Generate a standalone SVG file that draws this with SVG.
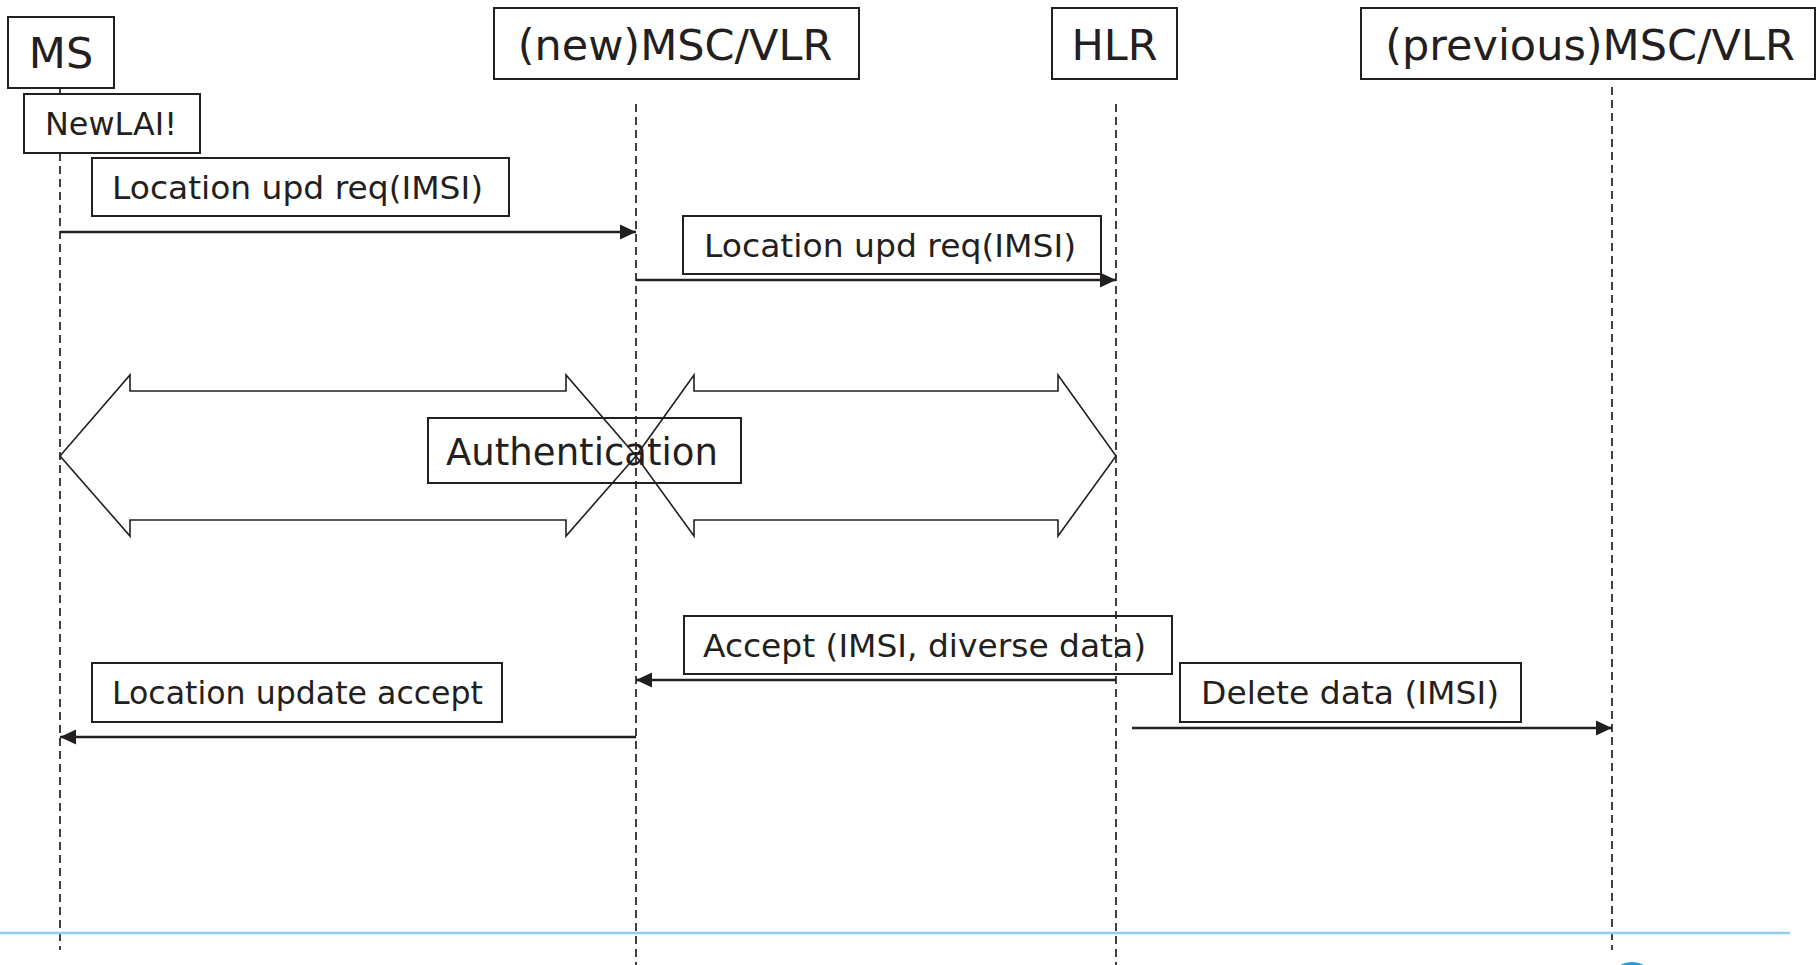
<svg xmlns="http://www.w3.org/2000/svg" width="1817" height="965" viewBox="0 0 1817 965">
<defs>
<style>
.box{fill:none;stroke:#231f20;stroke-width:2}
.t{font-family:"DejaVu Sans","Liberation Sans",sans-serif;fill:#231f20}
.big{font-size:43px;text-anchor:middle}
.sm{font-size:32px}
.life{stroke:#231f20;stroke-width:1.7;stroke-dasharray:8 5;fill:none}
.msg{stroke:#231f20;stroke-width:2.5;fill:none;marker-end:url(#ah)}
.blk{fill:none;stroke:#231f20;stroke-width:1.6;stroke-linejoin:miter}
</style>
<marker id="ah" markerUnits="userSpaceOnUse" markerWidth="18" markerHeight="16" viewBox="0 0 16 16" refX="16" refY="8" orient="auto">
<path d="M0,0.5 L16,8 L0,15.5 Z" fill="#231f20"/>
</marker>
</defs>
<rect width="1817" height="965" fill="#ffffff"/>

<g id="lifelines">
<line x1="60" y1="88" x2="60" y2="94" stroke="#231f20" stroke-width="1.7"/>
<line class="life" x1="60" y1="153" x2="60" y2="950"/>
<line class="life" x1="636" y1="104" x2="636" y2="965"/>
<line class="life" x1="1116" y1="104" x2="1116" y2="965"/>
<line class="life" x1="1612" y1="87" x2="1612" y2="950"/>
</g>

<g id="node-ms">
<rect class="box" x="8" y="17" width="106" height="71"/>
<text class="t big" x="61" y="68">MS</text>
</g>
<g id="node-newmsc">
<rect class="box" x="494" y="8" width="365" height="71"/>
<text class="t big" x="675" y="60">(new)MSC/VLR</text>
</g>
<g id="node-hlr">
<rect class="box" x="1052" y="8" width="125" height="71"/>
<text class="t big" x="1114.5" y="60">HLR</text>
</g>
<g id="node-prevmsc">
<rect class="box" x="1361" y="8" width="454" height="71"/>
<text class="t big" x="1590" y="60">(previous)MSC/VLR</text>
</g>
<g id="node-newlai">
<rect class="box" x="24" y="94" width="176" height="59"/>
<text class="t sm" x="45" y="135" textLength="132" lengthAdjust="spacingAndGlyphs">NewLAI!</text>
</g>

<g id="connectors">
<line class="msg" x1="60" y1="232" x2="636" y2="232"/>
<line class="msg" x1="636" y1="280" x2="1116" y2="280"/>
<line class="msg" x1="1116" y1="680" x2="636" y2="680"/>
<line class="msg" x1="636" y1="737" x2="60" y2="737"/>
<line class="msg" x1="1132" y1="728" x2="1612" y2="728"/>
<path class="blk" d="M60,456 L130,375 L130,391 L566,391 L566,375 L636,456 L566,536 L566,520 L130,520 L130,536 Z"/>
<path class="blk" d="M636,456 L694,375 L694,391 L1058,391 L1058,375 L1116,456 L1058,536 L1058,520 L694,520 L694,536 Z"/>
</g>

<g id="label-locupd1">
<rect class="box" x="92" y="158" width="417" height="58"/>
<text class="t sm" x="112" y="199" textLength="371" lengthAdjust="spacingAndGlyphs">Location upd req(IMSI)</text>
</g>
<g id="label-locupd2">
<rect class="box" x="683" y="216" width="418" height="58"/>
<text class="t sm" x="704" y="257" textLength="372" lengthAdjust="spacingAndGlyphs">Location upd req(IMSI)</text>
</g>
<g id="label-auth">
<rect class="box" x="428" y="418" width="313" height="65"/>
<text class="t" x="446" y="465" font-size="37" textLength="272" lengthAdjust="spacingAndGlyphs">Authentication</text>
</g>
<g id="label-accept">
<rect class="box" x="684" y="616" width="488" height="58"/>
<text class="t sm" x="703" y="657" textLength="443" lengthAdjust="spacingAndGlyphs">Accept (IMSI, diverse data)</text>
</g>
<g id="label-locaccept">
<rect class="box" x="92" y="663" width="410" height="59"/>
<text class="t sm" x="112" y="704" textLength="371" lengthAdjust="spacingAndGlyphs">Location update accept</text>
</g>
<g id="label-delete">
<rect class="box" x="1180" y="663" width="341" height="59"/>
<text class="t sm" x="1201" y="704" textLength="298" lengthAdjust="spacingAndGlyphs">Delete data (IMSI)</text>
</g>

<line x1="0" y1="933" x2="1790" y2="933" stroke="#8dcdf0" stroke-width="2.5"/>
<circle cx="1632" cy="985.5" r="23.5" fill="#1ba1e2"/>
</svg>
